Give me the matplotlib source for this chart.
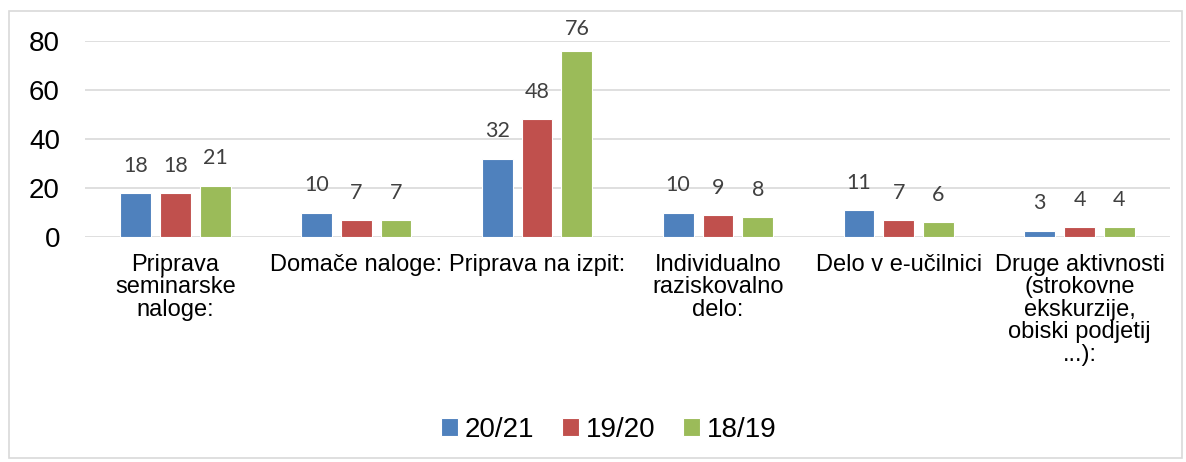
import matplotlib
matplotlib.use("Agg")
import matplotlib.pyplot as plt
from matplotlib.patches import Rectangle
import numpy as np

categories = ["Priprava\nseminarske\nnaloge:", "Domače naloge:", "Priprava na izpit:",
              "Individualno\nraziskovalno\ndelo:", "Delo v e-učilnici",
              "Druge aktivnosti\n(strokovne\nekskurzije,\nobiski podjetij\n...):"]
series_names = ["20/21", "19/20", "18/19"]
v2021 = [18, 10, 32, 10, 11, 2.6]
v1920 = [18, 7, 48, 9, 7, 4]
v1819 = [21, 7, 76, 8, 6, 4]
colors = ["#4f81bd", "#c0504d", "#9bbb59"]

fig = plt.figure(figsize=(11.86, 4.62), dpi=100)
ax = fig.add_axes([85/1186, 1-237/462, (1170-85)/1186, (237-41)/462])

x = np.arange(len(categories))
w = 0.17
pitch = 0.22
for i, (vals, name, c) in enumerate(zip([v2021, v1920, v1819], series_names, colors)):
    pos = x + (i-1)*pitch
    ax.bar(pos, vals, width=w, color=c, label=name, edgecolor="white", linewidth=0.8, zorder=3)
    for p, v in zip(pos, vals):
        ax.text(p, min(v + 7, 81), f"{v:.0f}", ha="center", va="bottom", fontsize=15.5,
                color="#404040", family="Lato", clip_on=False)

ax.set_xlim(-0.5, len(categories)-0.5)
ax.set_ylim(0, 80)
ax.set_yticks([0, 20, 40, 60, 80])
ax.yaxis.grid(True, color="#d9d9d9", linewidth=1.2, zorder=0)
ax.set_axisbelow(True)
for s in ax.spines.values():
    s.set_visible(False)
ax.tick_params(axis="y", length=0, pad=18, labelsize=20)
ax.tick_params(axis="x", length=0, pad=12, labelsize=17)
ax.set_xticks(x)
ax.set_xticklabels(categories, va="top", linespacing=1.03)
for lab in ax.get_xticklabels() + ax.get_yticklabels():
    lab.set_family("Liberation Sans")

leg = ax.legend(loc="center", bbox_to_anchor=(609/1186, 1-430/462), bbox_transform=fig.transFigure,
                ncol=3, frameon=False, prop={"family": "Liberation Sans", "size": 20},
                handlelength=0.6, handleheight=0.6, handletextpad=0.25, columnspacing=1.0)

fig.patches.append(Rectangle((9/1186, 1-458/462), (1182-9)/1186, (458-11)/462,
                             transform=fig.transFigure, fill=False, edgecolor="#d9d9d9", linewidth=1.2))
fig.savefig("out.png", dpi=100)
